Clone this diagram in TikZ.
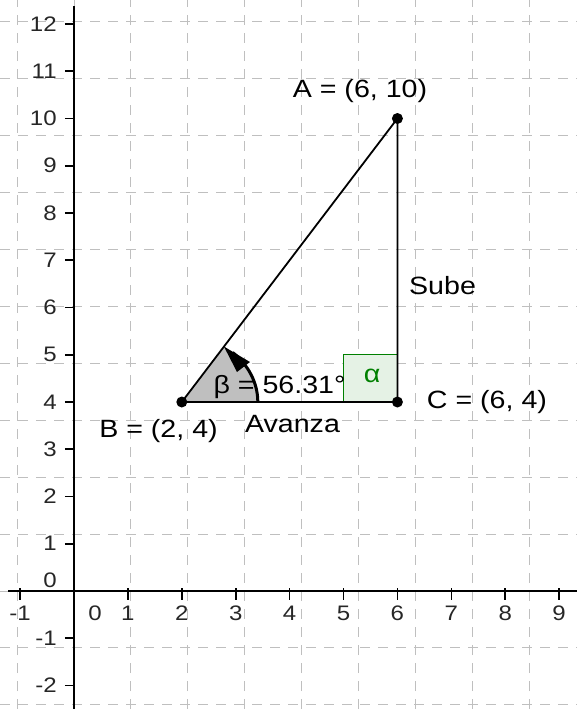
\documentclass[tikz,border=0pt]{standalone}
\usepackage{fontspec}
\setmainfont{Liberation Sans}
\usepackage{graphicx}
\usetikzlibrary{arrows.meta}
\newcommand{\stretchtxt}[1]{\scalebox{1.144}[1]{#1}}
\begin{document}
\begin{tikzpicture}[x=26.95pt,y=23.625pt,
  gridline/.style={draw=black!25, line width=0.5pt, dash pattern=on 5pt off 4pt},
  axisline/.style={line width=0.8pt, draw=black},
  tickmark/.style={line width=0.8pt, draw=black},
  axlabel/.style={font=\fontsize{10.5}{12}\selectfont, inner sep=0pt, text=black!85},
  ptlabel/.style={font=\fontsize{12.5}{15}\selectfont, inner sep=0pt, anchor=base},
  edgeline/.style={line width=0.9pt, draw=black},
  dot/.style={circle, fill=black, inner sep=0pt, minimum size=5.5pt},
  sectorfill/.style={fill=black!25},
  anglearc/.style={line width=1.5pt, draw=black},
  arrowhead/.style={fill=black},
  rightsq/.style={draw=green!50!black, fill=green!50!black!10, line width=0.7pt},
  greek/.style={font=\fontsize{12.5}{15}\selectfont, inner sep=0pt, text=green!50!black}]
\useasboundingbox (-1.373,-2.497) rectangle (9.332,12.508);
% grid
\draw[gridline] (-1.373,-2.497) grid (9.332,12.508);
% axes
\coordinate (xl) at (-1.22,0);
\coordinate (xr) at (9.332,0);
\coordinate (yb) at (0,-2.497);
\coordinate (yt) at (0,12.38);
\draw[axisline] (xl) -- (xr);
\draw[axisline] (yb) -- (yt);
% ticks
\foreach \y in {-2,-1,1,2,...,12} {
  \draw[tickmark] (-0.17,\y) -- (0,\y);
  \node[axlabel, anchor=east] at (-0.315,\y) {\stretchtxt{\y}};
}
\foreach \x in {-1,1,2,...,9} {
  \draw[tickmark] (\x,0.06) -- (\x,-0.2);
  \node[axlabel] at (\x,-0.466) {\stretchtxt{\x}};
}
\node[axlabel] (x0) at (0.39,-0.466) {\stretchtxt{0}};
\node[axlabel, anchor=east] (y0) at (-0.315,0.233) {\stretchtxt{0}};
% points
\coordinate (A) at (6,10);
\coordinate (B) at (2,4);
\coordinate (C) at (6,4);
\coordinate (Bs) at (3.41,4);
\coordinate (tip) at (2.782,5.173);
\coordinate (h1) at (3.265,4.847);
\coordinate (h2) at (3.024,4.635);
% right angle square
\draw[rightsq] (5,4) rectangle (6,5);
\node[greek] (alpha) at (5.53,4.55) {\stretchtxt{α}};
% sector
\fill[sectorfill] (B) -- (Bs) arc[start angle=0, end angle=56.31, radius=1.41] -- cycle;
% triangle
\draw[edgeline] (B) -- (A) -- (C) -- cycle;
% arc with arrow head
\draw[anglearc] (Bs) arc[start angle=0, end angle=48, radius=1.41];
\fill[arrowhead] (tip) -- (h1) -- (h2) -- cycle;
% dots
\node[dot] (Adot) at (A) {};
\node[dot] (Bdot) at (B) {};
\node[dot] (Cdot) at (C) {};
% labels
\node[ptlabel] (Alab) at (5.306,10.455) {\stretchtxt{A = (6, 10)}};
\node[ptlabel] (Blab) at (1.568,3.259) {\stretchtxt{B = (2, 4)}};
\node[ptlabel] (Clab) at (7.662,3.873) {\stretchtxt{C = (6, 4)}};
\node[ptlabel] (sube) at (6.837,6.265) {\stretchtxt{Sube}};
\node[ptlabel] (avanza) at (4.054,3.365) {\stretchtxt{Avanza}};
\node[ptlabel] (beta) at (3.813,4.19) {\stretchtxt{β = 56.31°}};
\end{tikzpicture}
\end{document}
